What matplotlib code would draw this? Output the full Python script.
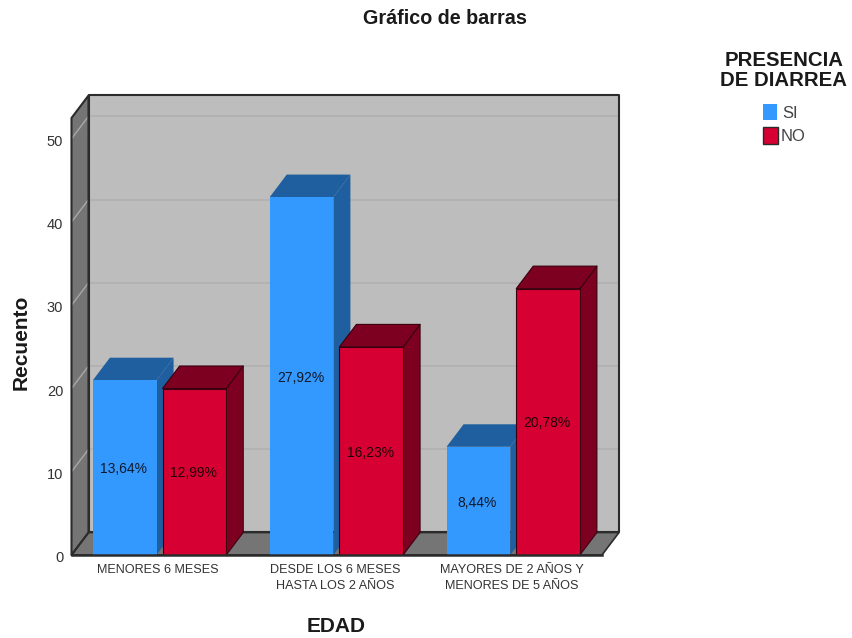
import matplotlib
matplotlib.use('Agg')
import matplotlib.pyplot as plt
from matplotlib.patches import Polygon, Rectangle
from matplotlib.transforms import ScaledTranslation

plt.rcParams['font.family'] = ['Liberation Sans', 'DejaVu Sans']

categories = ['MENORES 6 MESES', 'DESDE LOS 6 MESES\nHASTA LOS 2 AÑOS',
              'MAYORES DE 2 AÑOS Y\nMENORES DE 5 AÑOS']
si_counts = [21, 43, 13]
no_counts = [20, 25, 32]
si_labels = ['13,64%', '27,92%', '8,44%']
no_labels = ['12,99%', '16,23%', '20,78%']
y_ticks = [0, 10, 20, 30, 40, 50]

SI_COLORS = ('#3399ff', '#1f5f9f')
NO_COLORS = ('#d70033', '#7d0020')
WALL = '#bdbdbd'
SIDE = '#757575'
EDGE = '#2b2b2b'

W, H = 852, 638
# depth of the fake 3D box, in data units
DX = 17 / 176.8
DY = 22.5 / 8.32
BAR_W = 0.36
GAP = 0.034
XMAX, YMAX = 3, 52.5


def poly(ax, pts, color, edge=EDGE, lw=1.0, z=1):
    ax.add_patch(Polygon(pts, closed=True, facecolor=color, edgecolor=edge,
                         linewidth=lw, clip_on=False, zorder=z, joinstyle='round'))


def bar3d(ax, x, value, colors, z, edge):
    ax.bar(x, value, BAR_W, align='edge', color=colors[0], edgecolor=edge,
           linewidth=0.8, zorder=z + 0.2)
    # right side and top faces
    poly(ax, [(x + BAR_W, 0), (x + BAR_W + DX, DY), (x + BAR_W + DX, value + DY),
              (x + BAR_W, value)], colors[1], edge=edge, lw=0.8, z=z)
    poly(ax, [(x, value), (x + DX, value + DY), (x + BAR_W + DX, value + DY),
              (x + BAR_W, value)], colors[1], edge=edge, lw=0.8, z=z + 0.1)


fig = plt.figure(figsize=(W / 100, H / 100), dpi=100)
ax = fig.add_axes([71.5 / W, 1 - 555 / H, 530.5 / W, 437 / H])
ax.set_xlim(0, XMAX)
ax.set_ylim(0, YMAX)
for s in ax.spines.values():
    s.set_visible(False)
ax.patch.set_visible(False)

# back wall, left wall and floor
back_wall = [(DX, DY), (XMAX + DX, DY), (XMAX + DX, YMAX + DY), (DX, YMAX + DY)]
left_wall = [(0, 0), (DX, DY), (DX, YMAX + DY), (0, YMAX)]
poly(ax, back_wall, WALL, lw=0)
poly(ax, left_wall, SIDE, lw=0)
poly(ax, [(0, 0), (XMAX, 0), (XMAX + DX, DY), (DX, DY)], SIDE, lw=1.2)

# gridlines: lighter on the left wall, faint on the back wall
for v in y_ticks[1:]:
    ax.plot([0, DX], [v, v + DY], color='#a8a8a8', lw=1.0, clip_on=False, zorder=1.5)
    ax.plot([DX, XMAX + DX], [v + DY, v + DY], color='#b1b1b1', lw=1.3,
            clip_on=False, zorder=1.5)

# outlines go over the gridline ends
poly(ax, back_wall, 'none', lw=1.5, z=1.6)
poly(ax, left_wall, 'none', lw=1.5, z=1.6)

for i in range(len(categories)):
    x_si = i + 0.5 - GAP / 2 - BAR_W - 0.002
    x_no = i + 0.5 + GAP / 2 - 0.002
    bar3d(ax, x_si, si_counts[i], SI_COLORS, 3 + i * 2, 'none')
    bar3d(ax, x_no, no_counts[i], NO_COLORS, 4 + i * 2, '#3a0010')
    ax.text(x_si + BAR_W / 2 - 0.005, si_counts[i] / 2 - 0.2, si_labels[i], ha='center',
            va='center', fontsize=10, color='#101828', zorder=20)
    ax.text(x_no + BAR_W / 2 - 0.005, no_counts[i] / 2 - 0.2, no_labels[i], ha='center',
            va='center', fontsize=10, color='#200008', zorder=20)

ax.plot([0, XMAX], [0, 0], color=EDGE, lw=1.8, clip_on=False, zorder=15)

ax.set_xticks([i + 0.49 for i in range(len(categories))])
ax.set_xticklabels(categories, fontsize=9.1, color='#333333', linespacing=1.45)
ax.set_yticks(y_ticks)
ax.tick_params(axis='both', length=0)
ax.tick_params(axis='x', pad=6.5)
ax.tick_params(axis='y', pad=6, labelsize=10.5, labelcolor='#333333')
for label in ax.get_yticklabels():
    label.set_transform(label.get_transform() + ScaledTranslation(0, -1.5 / 100, fig.dpi_scale_trans))

fig.text(445 / W, 1 - 19 / H, 'Gráfico de barras', ha='center', va='center',
         fontsize=14.2, fontweight='bold', color='#1a1a1a')
fig.text(336 / W, 1 - 626 / H, 'EDAD', ha='center', va='center',
         fontsize=15, fontweight='bold', color='#1a1a1a')
fig.text(21 / W, 1 - 342 / H, 'Recuento', ha='center', va='center', rotation=90,
         fontsize=15, fontweight='bold', color='#1a1a1a')

# legend
fig.text(784 / W, 1 - 70.5 / H, 'PRESENCIA\nDE DIARREA', ha='center', va='center',
         fontsize=14.7, fontweight='bold', color='#1a1a1a', linespacing=1.05)
fig.add_artist(Rectangle((763 / W, 1 - 120 / H), 14 / W, 16 / H, transform=fig.transFigure,
                         facecolor=SI_COLORS[0], edgecolor='none'))
fig.add_artist(Rectangle((763 / W, 1 - 144 / H), 15 / W, 17 / H, transform=fig.transFigure,
                         facecolor=NO_COLORS[0], edgecolor=EDGE, linewidth=1))
fig.text(782 / W, 1 - 113 / H, 'SI', ha='left', va='center', fontsize=12, color='#444444')
fig.text(781 / W, 1 - 137 / H, 'NO', ha='left', va='center', fontsize=12, color='#444444')

fig.savefig('out.png', dpi=100)
